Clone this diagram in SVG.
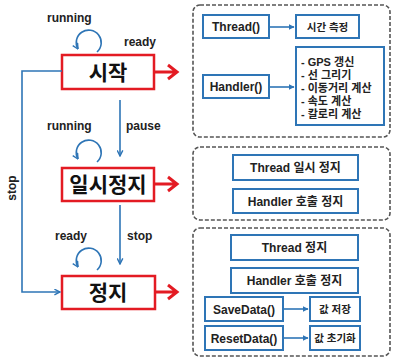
<svg xmlns="http://www.w3.org/2000/svg" width="393" height="361" viewBox="0 0 393 361">
<defs>
<style>
.state{fill:#fff;stroke:#e31b23;stroke-width:2.5}
.st{font-family:"Noto Sans CJK KR","Liberation Sans",sans-serif;font-weight:bold;font-size:21px;fill:#111;text-anchor:middle}
.lbl{font-family:"Liberation Sans","Noto Sans",sans-serif;font-weight:bold;font-size:12px;fill:#222}
.panel{fill:none;stroke:#555;stroke-width:1.6;stroke-dasharray:4 2}
.box{fill:#fff;stroke:#2e75b6;stroke-width:2}
.bt{font-family:"Liberation Sans","Noto Sans CJK KR",sans-serif;font-weight:bold;font-size:12px;fill:#222;text-anchor:middle}
.bk{font-family:"Liberation Sans","Noto Sans CJK KR",sans-serif;font-weight:bold;font-size:10.5px;fill:#222;text-anchor:middle}
.lt{font-family:"Liberation Sans","Noto Sans CJK KR",sans-serif;font-weight:bold;font-size:11px;fill:#222}
.blue{fill:none;stroke:#2e75b6;stroke-width:1.6}
.red{fill:none;stroke:#e31b23;stroke-width:3}
</style>
<marker id="ab" viewBox="0 0 10 10" refX="9" refY="5" markerWidth="6" markerHeight="6" orient="auto" markerUnits="userSpaceOnUse">
<path d="M0,0 L10,5 L0,10 z" fill="#2e75b6"/>
</marker>
<marker id="ab2" viewBox="0 0 10 10" refX="9" refY="5" markerWidth="7" markerHeight="7" orient="auto" markerUnits="userSpaceOnUse">
<path d="M1,1 L9,5 L1,9" fill="none" stroke="#2e75b6" stroke-width="2"/>
</marker>
</defs>
<rect width="393" height="361" fill="#fff"/>

<g id="start">
<rect class="state" x="62" y="55" width="92" height="34"/>
<text class="st" x="108" y="80">시작</text>
</g>
<g id="pause">
<rect class="state" x="62" y="168" width="92" height="33"/>
<text class="st" x="108" y="192">일시정지</text>
</g>
<g id="stop">
<rect class="state" x="62" y="276" width="93" height="33"/>
<text class="st" x="108" y="300">정지</text>
</g>

<g id="panel-start">
<rect class="panel" x="193" y="5" width="197" height="132" rx="7"/>
<g id="thread1"><rect class="box" x="203" y="15" width="66" height="23"/><text class="bt" x="236" y="31">Thread()</text></g>
<g id="time"><rect class="box" x="296" y="15" width="63" height="23"/><text class="bk" x="327.5" y="30.5">시간 측정</text></g>
<g id="handler1"><rect class="box" x="203" y="75" width="66" height="23"/><text class="bt" x="236" y="91">Handler()</text></g>
<g id="tasks"><rect class="box" x="296" y="47" width="88" height="78"/>
<text class="lt" x="301" y="66">- GPS 갱신</text>
<text class="lt" x="301" y="79">- 선 그리기</text>
<text class="lt" x="301" y="92">- 이동거리 계산</text>
<text class="lt" x="301" y="105">- 속도 계산</text>
<text class="lt" x="301" y="118">- 칼로리 계산</text>
</g>
</g>

<g id="panel-pause">
<rect class="panel" x="193" y="147" width="197" height="73" rx="7"/>
<g id="thread2"><rect class="box" x="233" y="155" width="125" height="25"/><text class="bt" x="295.5" y="172">Thread 일시 정지</text></g>
<g id="handler2"><rect class="box" x="233" y="189" width="125" height="24"/><text class="bt" x="295.5" y="205.5">Handler 호출 정지</text></g>
</g>

<g id="panel-stop">
<rect class="panel" x="193" y="228" width="197" height="128" rx="7"/>
<g id="thread3"><rect class="box" x="231" y="235" width="127" height="25"/><text class="bt" x="294.5" y="252">Thread 정지</text></g>
<g id="handler3"><rect class="box" x="231" y="268" width="127" height="25"/><text class="bt" x="294.5" y="285">Handler 호출 정지</text></g>
<g id="save"><rect class="box" x="205" y="297" width="78" height="24"/><text class="bt" x="244" y="313.5">SaveData()</text></g>
<g id="saveval"><rect class="box" x="310" y="297" width="50" height="24"/><text class="bk" x="335" y="313">값 저장</text></g>
<g id="reset"><rect class="box" x="205" y="326" width="78" height="24"/><text class="bt" x="244" y="342.5">ResetData()</text></g>
<g id="resetval"><rect class="box" x="310" y="326" width="50" height="24"/><text class="bk" x="335" y="342">값 초기화</text></g>
</g>

<g id="connectors">
<path class="blue" d="M62,71 H22 V292 H60" marker-end="url(#ab2)"/>
<path class="blue" d="M120,100 V156" marker-end="url(#ab2)"/>
<path class="blue" d="M120,205 V264" marker-end="url(#ab2)"/>
<path class="blue" d="M97,52 A12.5,12.5 0 1 0 78,49" marker-end="url(#ab2)"/>
<path class="blue" d="M97,162 A12.5,12.5 0 1 0 78,159" marker-end="url(#ab2)"/>
<path class="blue" d="M97,270 A12.5,12.5 0 1 0 78,267" marker-end="url(#ab2)"/>
<path class="red" d="M155,72 H176 M168,65 L177,72 L168,79"/>
<path class="red" d="M155,184 H176 M168,177 L177,184 L168,191"/>
<path class="red" d="M156,292 H176 M168,285 L177,292 L168,299"/>
<path class="blue" d="M270,27 H294" marker-end="url(#ab)"/>
<path class="blue" d="M270,87 H294" marker-end="url(#ab)"/>
<path class="blue" d="M284,309 H308" marker-end="url(#ab)"/>
<path class="blue" d="M284,338 H308" marker-end="url(#ab)"/>
<text class="lbl" x="47" y="22">running</text>
<text class="lbl" x="124" y="46">ready</text>
<text class="lbl" x="47" y="130">running</text>
<text class="lbl" x="126" y="130">pause</text>
<text class="lbl" x="55" y="240">ready</text>
<text class="lbl" x="127" y="240">stop</text>
<text class="lbl" transform="translate(16,188) rotate(-90)" text-anchor="middle">stop</text>
</g>
</svg>
